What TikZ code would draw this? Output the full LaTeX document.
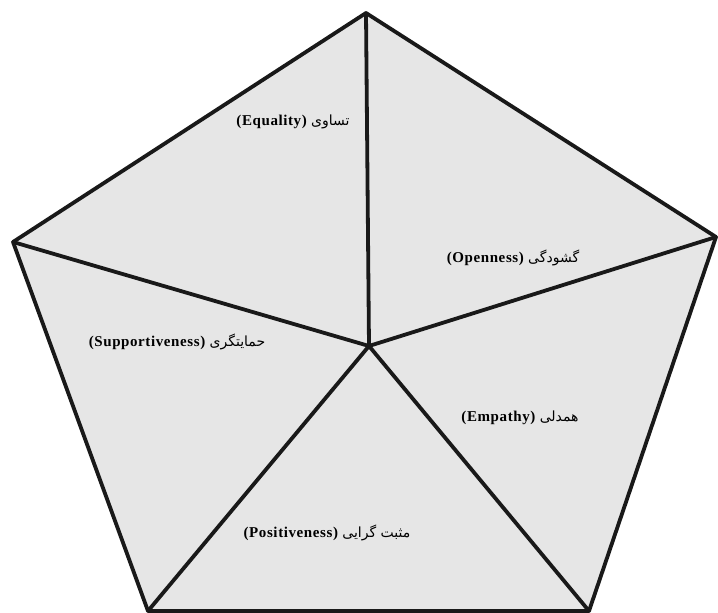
\documentclass[tikz,border=0pt]{standalone}
\usepackage{fontspec}
\setmainfont{Liberation Serif}[LetterSpace=4]
\newfontfamily\arabicfont[Script=Arabic]{DejaVu Sans}
\TeXXeTstate=1
\definecolor{fillgray}{HTML}{E6E6E6}
\tikzset{
  edge/.style={line width=3.8pt, line join=round, line cap=round, black!90},
  lbl/.style={font=\fontsize{15}{17}\selectfont\bfseries, inner sep=0pt}
}
\newcommand{\fa}[1]{{\arabicfont\mdseries\fontsize{14}{16}\selectfont\beginR #1\endR}}
\begin{document}
\begin{tikzpicture}[x=1pt,y=1pt]
\useasboundingbox (0,0) rectangle (718,613);
\coordinate (T) at (366,600);
\coordinate (R) at (716,376);
\coordinate (BR) at (589,2);
\coordinate (BL) at (148,2);
\coordinate (L) at (13,371);
\coordinate (C) at (369,267);
\fill[fillgray] (T) -- (R) -- (BR) -- (BL) -- (L) -- cycle;
\draw[edge] (T) -- (R) -- (BR) -- (BL) -- (L) -- cycle;
\draw[edge] (C) -- (T);
\draw[edge] (C) -- (R);
\draw[edge] (C) -- (BR);
\draw[edge] (C) -- (BL);
\draw[edge] (C) -- (L);
\node[lbl] (eq) at (293,491) {(Equality) \fa{تساوی}};
\node[lbl] (op) at (513,355) {(Openness) \fa{گشودگی}};
\node[lbl] (su) at (177,271) {(Supportiveness) \fa{حمایتگری}};
\node[lbl] (em) at (520,195) {(Empathy) \fa{همدلی}};
\node[lbl] (po) at (327,80) {(Positiveness) \fa{مثبت گرایی}};
\end{tikzpicture}
\end{document}
